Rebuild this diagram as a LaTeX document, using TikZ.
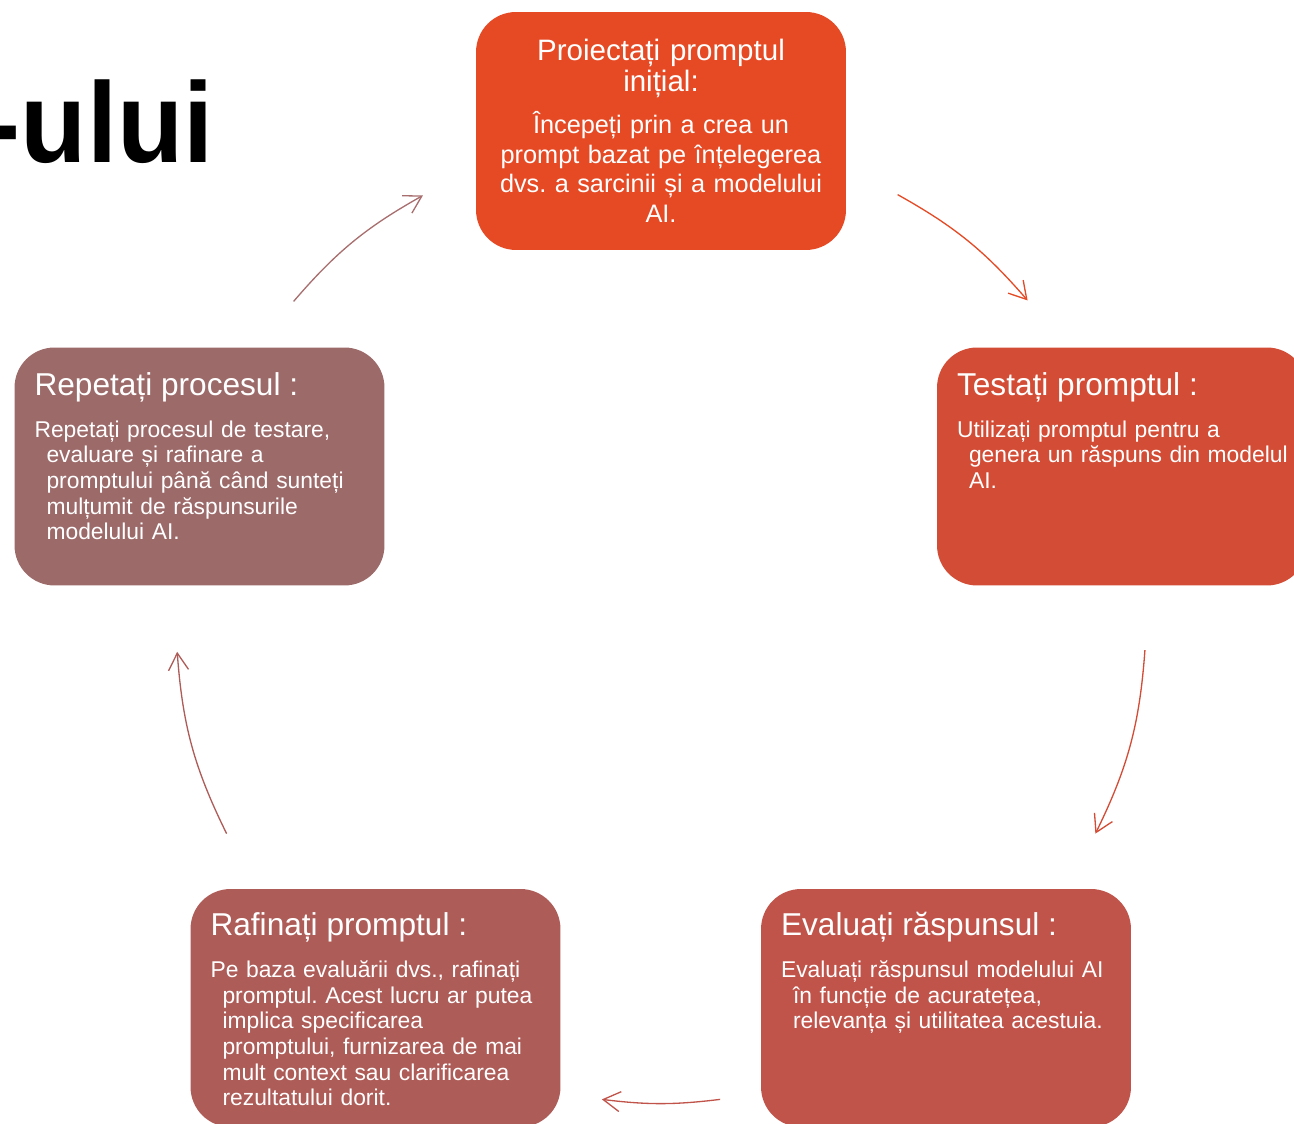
\documentclass[tikz,border=0pt]{standalone}
\usepackage{fontspec}
\setmainfont{Liberation Sans}
\newfontfamily\titlefont[FakeStretch=0.95]{Liberation Sans}
\usetikzlibrary{arrows.meta,positioning}
\frenchspacing

\definecolor{colP}{RGB}{229,74,37}
\definecolor{colT}{RGB}{211,77,54}
\definecolor{colE}{RGB}{192,84,74}
\definecolor{colF}{RGB}{174,92,88}
\definecolor{colR}{RGB}{157,106,106}
\definecolor{colRarrow}{RGB}{168,110,110}

\newcommand{\indline}{\hspace*{0.24cm}}

\begin{document}
\begin{tikzpicture}[x=0.02cm,y=0.02cm]
\useasboundingbox (0,0) rectangle (1294,1124);
\tikzstyle{box}=[rectangle, rounded corners=0.8cm, minimum width=7.4cm, minimum height=4.76cm, inner sep=0pt]
\tikzstyle{head}=[text=white, inner sep=0pt, anchor=base west, font=\fontsize{18}{20}\selectfont]
\tikzstyle{body}=[text=white, inner sep=0pt, anchor=base west, text width=6.8cm, align=left, font=\fontsize{13}{14.6}\selectfont]
\tikzstyle{cycle}=[line width=0.75pt, -{Straight Barb[length=3.4mm,width=4mm]}]

% title fragment, cut at the left edge
\node[anchor=base east, inner sep=0pt, font=\titlefont\bfseries\fontsize{65}{70}\selectfont](title) at (214,961) {-ului};

% the five steps
\node[box, fill=colP](P) at (661,993) {};
\node[box, fill=colT](T) at (1122,657.5) {};
\node[box, fill=colE](E) at (946,116) {};
\node[box, fill=colF](F) at (375.5,116) {};
\node[box, fill=colR](R) at (199.5,657.5) {};

\node[head, anchor=base, text width=7cm, align=center, font=\fontsize{16.8}{17.6}\selectfont](Ph) at ([shift={(0,-49)}]P.north) {Proiectați promptul\\ inițial:};
\node[body, anchor=base, text width=7cm, align=center, font=\fontsize{14.4}{16.8}\selectfont](Pb) at ([shift={(0,-122)}]P.north) {Începeți prin a crea un\\ prompt bazat pe înțelegerea\\ dvs. a sarcinii și a modelului\\ AI.};

\node[head](Th) at ([shift={(20,-48)}]T.north west) {Testați promptul :};
\node[body](Tb) at ([shift={(20,-90)}]T.north west) {Utilizați promptul pentru a\\ \indline genera un răspuns din modelul\\ \indline AI.};

\node[head](Eh) at ([shift={(20,-47)}]E.north west) {Evaluați răspunsul :};
\node[body](Eb) at ([shift={(20,-89)}]E.north west) {Evaluați răspunsul modelului AI\\ \indline în funcție de acuratețea,\\ \indline relevanța și utilitatea acestuia.};

\node[head](Fh) at ([shift={(20,-47)}]F.north west) {Rafinați promptul :};
\node[body](Fb) at ([shift={(20,-89)}]F.north west) {Pe baza evaluării dvs., rafinați\\ \indline promptul. Acest lucru ar putea\\ \indline implica specificarea\\ \indline promptului, furnizarea de mai\\ \indline mult context sau clarificarea\\ \indline rezultatului dorit.};

\node[head](Rh) at ([shift={(20,-48)}]R.north west) {Repetați procesul :};
\node[body](Rb) at ([shift={(20,-90)}]R.north west) {Repetați procesul de testare,\\ \indline evaluare și rafinare a\\ \indline promptului până când sunteți\\ \indline mulțumit de răspunsurile\\ \indline modelului AI.};

% arrows around the cycle
\coordinate (O) at (661,506);
\coordinate (a1) at ([shift={(O)}]139.25:485);
\coordinate (b1) at ([shift={(O)}]119.4:485);
\coordinate (a2) at ([shift={(O)}]60.8:485);
\coordinate (b2) at ([shift={(O)}]40.9:485);
\coordinate (a3) at ([shift={(O)}]-3.8:485);
\coordinate (b3) at ([shift={(O)}]-26.4:485);
\coordinate (a4) at ([shift={(O)}]-83:485);
\coordinate (b4) at ([shift={(O)}]-97:485);
\coordinate (a5) at ([shift={(O)}]206.4:485);
\coordinate (b5) at ([shift={(O)}]184:485);
\draw[cycle, colRarrow] (a1) to[bend left=10] (b1);
\draw[cycle, colP] (a2) to[bend left=10] (b2);
\draw[cycle, colT] (a3) to[bend left=11] (b3);
\draw[cycle, colE] (a4) to[bend left=7] (b4);
\draw[cycle, colF] (a5) to[bend left=11] (b5);
\end{tikzpicture}
\end{document}
